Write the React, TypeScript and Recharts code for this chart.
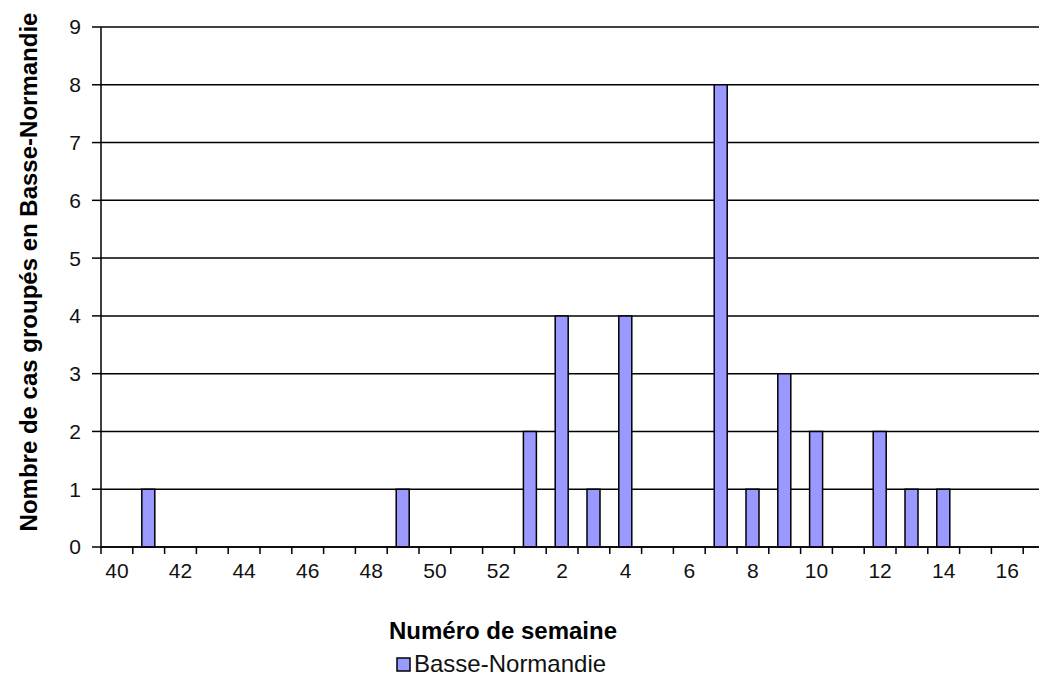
import React from 'react';
import { BarChart, Bar, XAxis, YAxis, CartesianGrid, Legend } from 'recharts';

// weeks 40..52 of one year, then 1..17 of the next
const weeks = [
  '40', '41', '42', '43', '44', '45', '46', '47', '48', '49', '50', '51', '52',
  '1', '2', '3', '4', '5', '6', '7', '8', '9', '10', '11', '12', '13', '14', '15', '16', '17',
];
const cases = [
  0, 1, 0, 0, 0, 0, 0, 0, 0, 1, 0, 0, 0,
  2, 4, 1, 4, 0, 0, 8, 1, 3, 2, 0, 2, 1, 1, 0, 0, 0,
];
const yTicks = [0, 1, 2, 3, 4, 5, 6, 7, 8, 9];

const data = weeks.map((w, i) => ({ week: w, value: cases[i] }));

const FONT = '"Liberation Sans", Arial, sans-serif';
const CHART_W = 1060;
const CHART_H = 682;
const Y_AXIS_W = 101;
const MARGIN_RIGHT = 5;
const BAND = (CHART_W - Y_AXIS_W - MARGIN_RIGHT) / weeks.length;

const WeekTick = (props: any) => {
  const { x, y, payload, index } = props;
  const left = x - BAND / 2;
  return (
    <g>
      <line x1={left} y1={y} x2={left} y2={y + 7} stroke="#000" strokeWidth={1.5} />
      {index % 2 === 0 && (
        <text x={x} y={y + 31} textAnchor="middle" fontFamily={FONT} fontSize={21} fill="#111">
          {payload.value}
        </text>
      )}
    </g>
  );
};

const LegendBox = () => (
  <div style={{ display: 'flex', alignItems: 'center', fontFamily: FONT, fontSize: 24, color: '#111', whiteSpace: 'nowrap' }}>
    <svg width={15} height={15} style={{ marginRight: 3 }}>
      <rect x={1} y={1} width={13} height={13} fill="#9999FF" stroke="#000" strokeWidth={1.5} />
    </svg>
    <span>Basse-Normandie</span>
  </div>
);

export default function App() {
  return (
    <div style={{ width: 1047, height: 682, overflow: 'hidden', margin: '-8px 0 0 -8px', background: '#fff' }}>
      <BarChart
        width={CHART_W}
        height={CHART_H}
        data={data}
        margin={{ top: 27, right: MARGIN_RIGHT, left: 0, bottom: 105 }}
        barCategoryGap="0%"
      >
        <CartesianGrid vertical={false} stroke="#000" strokeWidth={1.5} />
        <XAxis
          dataKey="week"
          height={30}
          interval={0}
          tickLine={false}
          tickSize={0}
          tickMargin={0}
          tick={<WeekTick />}
          axisLine={{ stroke: '#000', strokeWidth: 1.5 }}
          label={{
            content: () => (
              <text x={503} y={639} textAnchor="middle" fontFamily={FONT} fontWeight="bold" fontSize={24} fill="#000">
                Numéro de semaine
              </text>
            ),
          }}
        />
        <YAxis
          width={Y_AXIS_W}
          domain={[0, 9]}
          ticks={yTicks}
          interval={0}
          tickSize={9}
          tickMargin={11}
          tickLine={{ stroke: '#000', strokeWidth: 1.5 }}
          axisLine={{ stroke: '#000', strokeWidth: 1.5 }}
          tick={{ fontFamily: FONT, fontSize: 21, fill: '#111' }}
          label={{
            content: () => (
              <text
                x={28}
                y={272}
                transform="rotate(-90 28 272)"
                textAnchor="middle"
                dominantBaseline="central"
                fontFamily={FONT}
                fontWeight="bold"
                fontSize={24}
                fill="#000"
              >
                Nombre de cas groupés en Basse-Normandie
              </text>
            ),
          }}
        />
        <Legend
          layout="horizontal"
          verticalAlign="middle"
          align="center"
          content={<LegendBox />}
          wrapperStyle={{ top: 650, left: 396, width: 'auto', height: 'auto' }}
        />
        <Bar
          dataKey="value"
          name="Basse-Normandie"
          fill="#9999FF"
          stroke="#000"
          strokeWidth={1.5}
          barSize={13}
          isAnimationActive={false}
        />
      </BarChart>
    </div>
  );
}
